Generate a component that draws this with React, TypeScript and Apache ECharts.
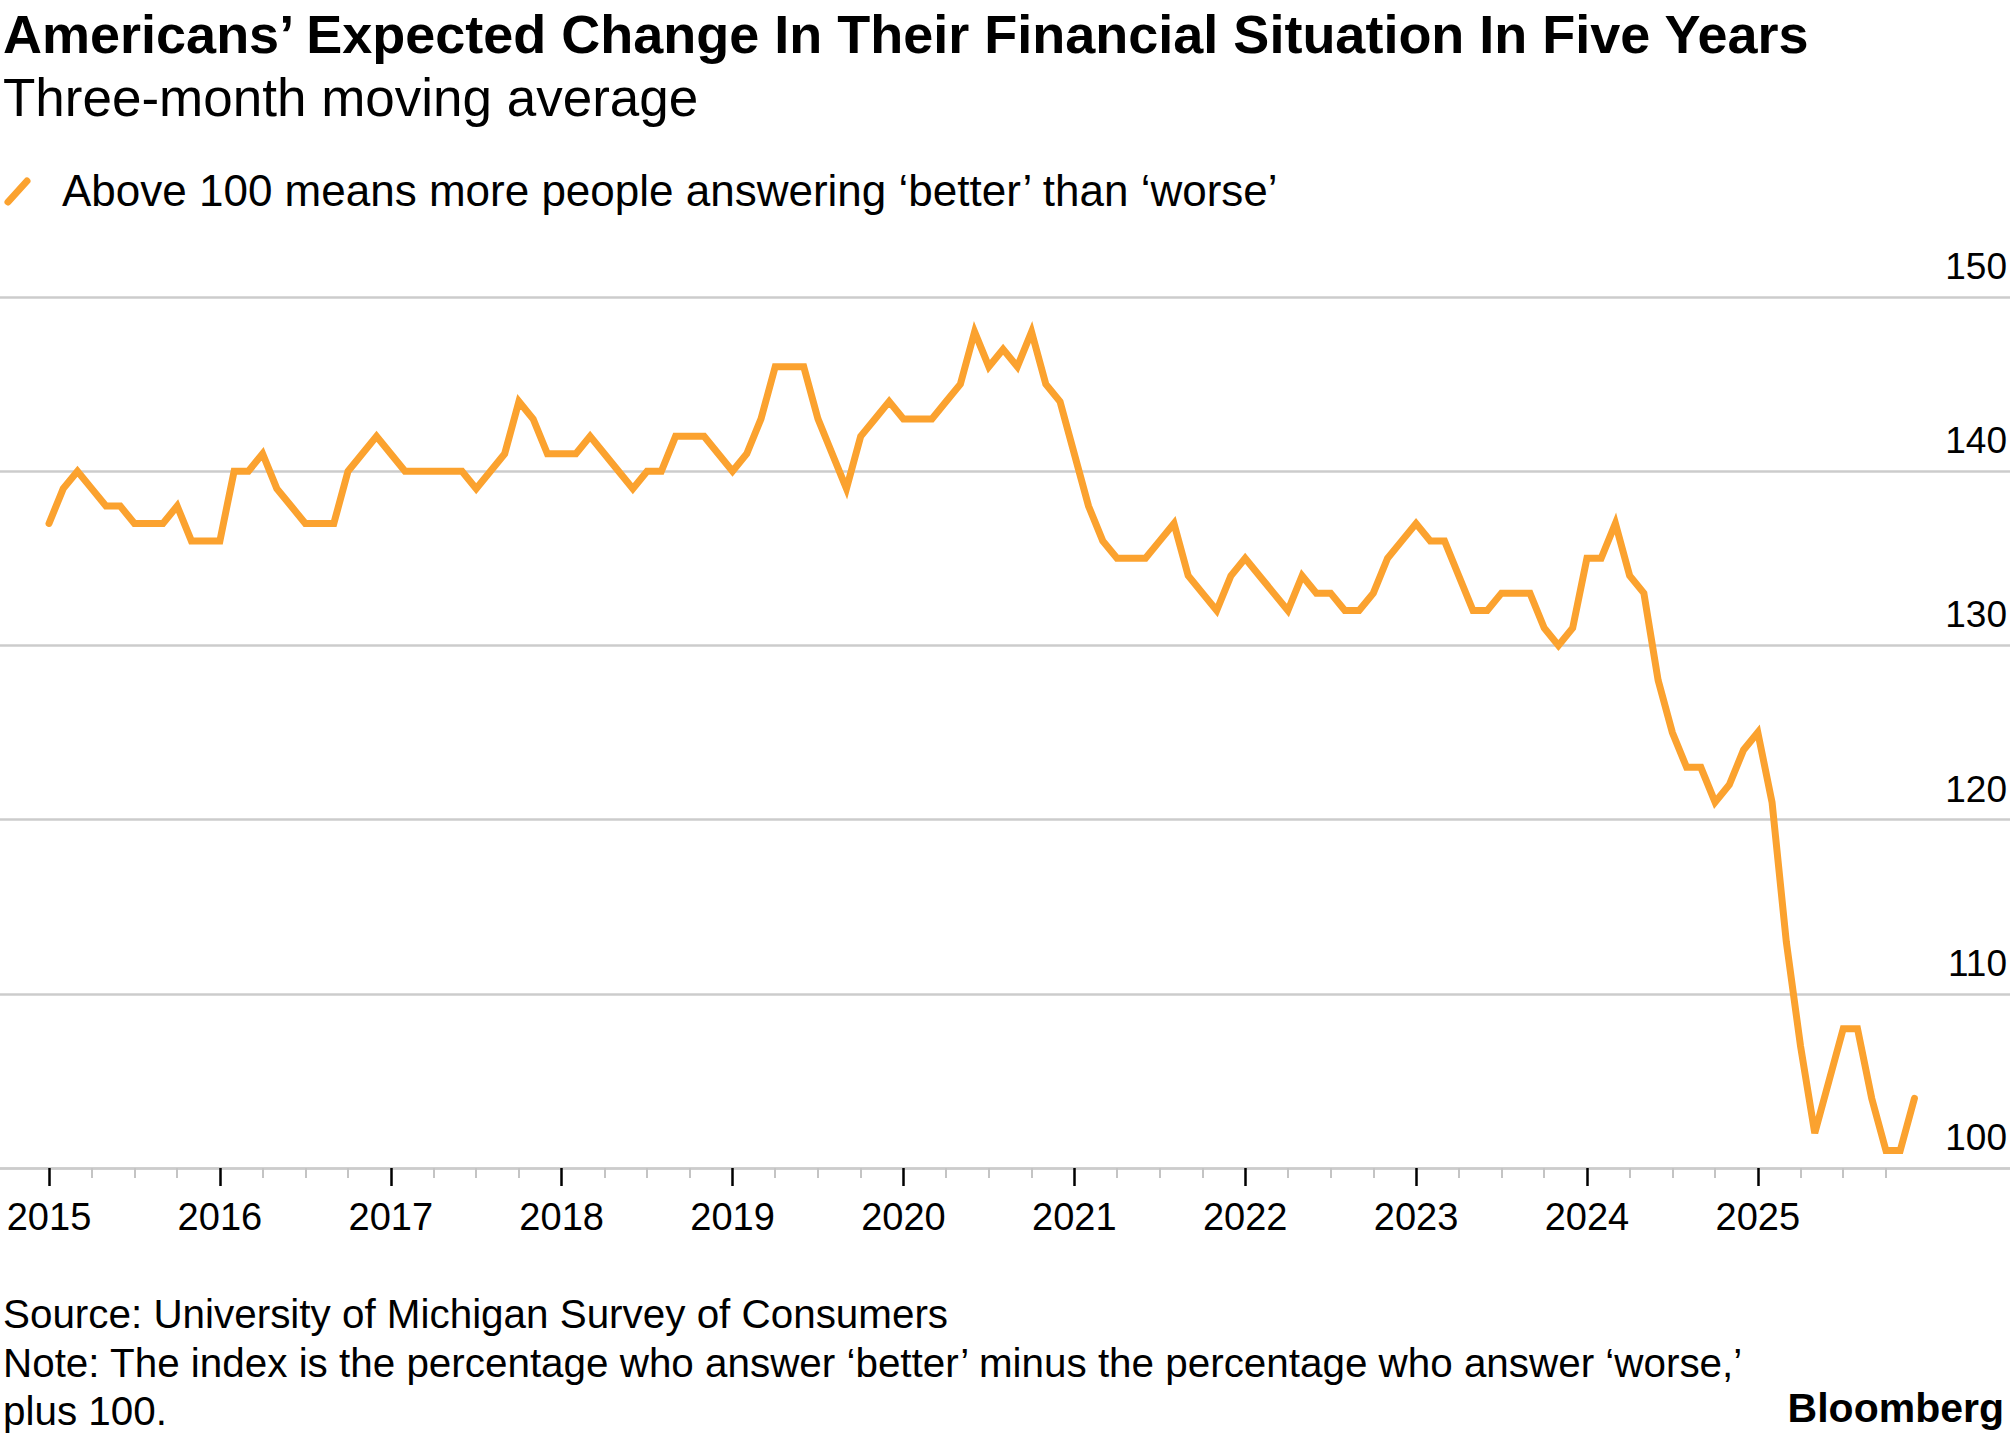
import React, { useEffect, useRef } from "react";
import * as echarts from "echarts";

// ---------------- data ----------------
const START_YEAR = 2015;
const yearLabels = ["2015", "2016", "2017", "2018", "2019", "2020", "2021", "2022", "2023", "2024", "2025"];
const yTickValues = [100, 110, 120, 130, 140, 150];

const values2015 = [137, 139, 140, 139, 138, 138, 137, 137, 137, 138, 136, 136];
const values2016 = [136, 140, 140, 141, 139, 138, 137, 137, 137, 140, 141, 142];
const values2017 = [141, 140, 140, 140, 140, 140, 139, 140, 141, 144, 143, 141];
const values2018 = [141, 141, 142, 141, 140, 139, 140, 140, 142, 142, 142, 141];
const values2019 = [140, 141, 143, 146, 146, 146, 143, 141, 139, 142, 143, 144];
const values2020 = [143, 143, 143, 144, 145, 148, 146, 147, 146, 148, 145, 144];
const values2021 = [141, 138, 136, 135, 135, 135, 136, 137, 134, 133, 132, 134];
const values2022 = [135, 134, 133, 132, 134, 133, 133, 132, 132, 133, 135, 136];
const values2023 = [137, 136, 136, 134, 132, 132, 133, 133, 133, 131, 130, 131];
const values2024 = [135, 135, 137, 134, 133, 128, 125, 123, 123, 121, 122, 124];
const values2025 = [125, 121, 113, 107, 102, 105, 108, 108, 104, 101, 101, 104];

const TITLE = "Americans\u2019 Expected Change In Their Financial Situation In Five Years";
const SUBTITLE = "Three-month moving average";
const LEGEND = "Above 100 means more people answering \u2018better\u2019 than \u2018worse\u2019";
const SOURCE = "Source: University of Michigan Survey of Consumers";
const NOTE1 = "Note: The index is the percentage who answer \u2018better\u2019 minus the percentage who answer \u2018worse,\u2019";
const NOTE2 = "plus 100.";
const BRAND = "Bloomberg";

// ---------------- derived ----------------
const monthlyValues = [
  ...values2015, ...values2016, ...values2017, ...values2018, ...values2019, ...values2020,
  ...values2021, ...values2022, ...values2023, ...values2024, ...values2025,
];
const seriesData = monthlyValues.map((v, i) => [i, v]);
const majorTicks = yearLabels.map((_, i) => i * 12);
const minorTicks: number[] = [];
yearLabels.forEach((_, i) => {
  [3, 6, 9].forEach((q) => minorTicks.push(i * 12 + q));
});

// ---------------- layout ----------------
const W = 2010;
const H = 1434;
const X0 = 49; // pixel of first month
const PX_PER_MONTH = 14.24;
const X_MIN = -X0 / PX_PER_MONTH;
const X_MAX = (W - X0) / PX_PER_MONTH;
const FONT = '"Liberation Sans", Arial, Helvetica, sans-serif';
const ORANGE = "#FBA22F";
const GRID_GRAY = "#cccccc";

export default function App() {
  const ref = useRef<HTMLDivElement>(null);

  useEffect(() => {
    if (!ref.current) return;
    const chart = echarts.init(ref.current, null, { renderer: "svg", width: W, height: H });

    const txt = (text: string, x: number, y: number, size: number, weight = "normal", align = "left") => ({
      type: "text",
      x,
      y,
      style: {
        text,
        fill: "#000",
        font: `${weight} ${size}px ${FONT}`,
        align,
        verticalAlign: "middle",
      },
    });

    chart.setOption({
      animation: false,
      backgroundColor: "#ffffff",
      grid: { left: 0, right: 0, top: 297, bottom: H - 1168, containLabel: false },
      xAxis: [
        {
          type: "value",
          position: "bottom",
          min: X_MIN,
          max: X_MAX,
          splitLine: { show: false },
          axisLine: { show: true, lineStyle: { color: GRID_GRAY, width: 2.5 } },
          axisTick: {
            show: true,
            customValues: majorTicks,
            length: 18,
            lineStyle: { color: "#000", width: 2.5 },
          },
          axisLabel: {
            show: true,
            customValues: majorTicks,
            formatter: (v: number) => yearLabels[Math.round(v / 12)] ?? "",
            color: "#000",
            fontFamily: FONT,
            fontSize: 38,
            margin: 30,
          },
        },
        {
          type: "value",
          position: "bottom",
          min: X_MIN,
          max: X_MAX,
          splitLine: { show: false },
          axisLine: { show: false },
          axisTick: {
            show: true,
            customValues: minorTicks,
            length: 10,
            lineStyle: { color: "#c4c4c4", width: 2 },
          },
          axisLabel: { show: false },
        },
      ],
      yAxis: {
        type: "value",
        position: "right",
        min: 100,
        max: 150,
        interval: 10,
        axisLine: { show: false },
        axisTick: { show: false },
        splitLine: { show: true, lineStyle: { color: GRID_GRAY, width: 2.5 } },
        axisLabel: {
          inside: true,
          margin: 3,
          color: "#000",
          fontFamily: FONT,
          fontSize: 37,
          align: "right",
          verticalAlign: "bottom",
          padding: [0, 0, 12, 0],
          formatter: (v: number) => (yTickValues.includes(v) ? String(v) : ""),
        },
      },
      series: [
        {
          type: "line",
          xAxisIndex: 0,
          data: seriesData,
          showSymbol: false,
          symbol: "none",
          lineStyle: { color: ORANGE, width: 7, cap: "round", join: "miter" },
          z: 5,
        },
      ],
      graphic: [
        txt(TITLE, 3, 34, 54, "bold"),
        txt(SUBTITLE, 3, 97, 53),
        {
          type: "line",
          shape: { x1: 8, y1: 202, x2: 27, y2: 181 },
          style: { stroke: ORANGE, lineWidth: 7, lineCap: "round" },
        },
        txt(LEGEND, 62, 190, 44),
        txt(SOURCE, 3, 1314, 40.4),
        txt(NOTE1, 3, 1363, 40.4),
        txt(NOTE2, 3, 1411, 40.4),
        txt(BRAND, 2004, 1408, 41, "bold", "right"),
      ],
    });

    return () => chart.dispose();
  }, []);

  return (
    <div
      ref={ref}
      style={{ position: "absolute", left: 0, top: 0, width: W, height: H, background: "#fff" }}
    />
  );
}
